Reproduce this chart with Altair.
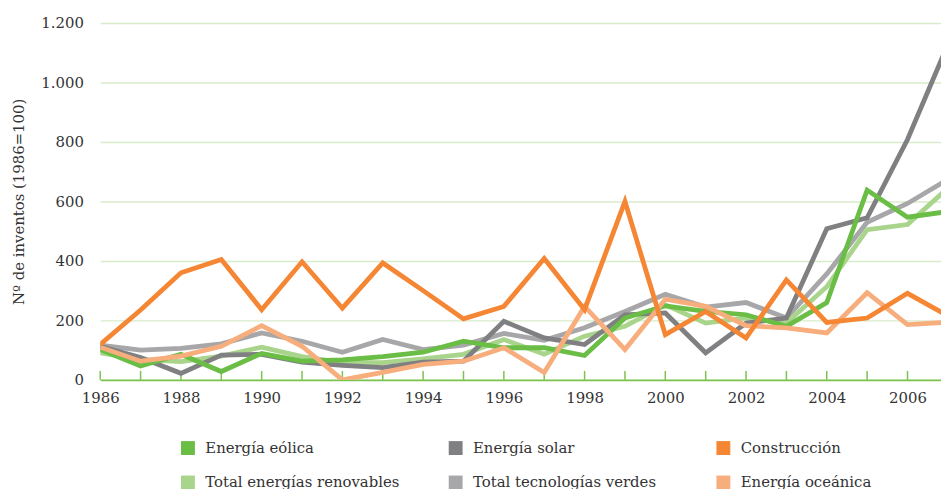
import altair as alt
import pandas as pd

years = list(range(1986, 2008))
eolica = [102, 47, 86, 28, 89, 63, 67, 78, 93, 130, 108, 108, 82, 208, 249, 230, 219, 180, 260, 638, 547, 566]
solar = [113, 75, 22, 83, 86, 60, 49, 41, 60, 63, 197, 141, 119, 219, 225, 91, 191, 208, 508, 545, 808, 1128]
construccion = [119, 235, 360, 405, 236, 397, 241, 393, 300, 205, 247, 408, 236, 600, 152, 230, 141, 336, 193, 208, 291, 215]
renovables = [91, 69, 61, 80, 110, 78, 58, 58, 71, 86, 136, 86, 147, 180, 252, 191, 208, 191, 313, 505, 522, 645]
verdes = [117, 100, 106, 121, 158, 130, 93, 136, 102, 117, 156, 133, 175, 230, 288, 245, 260, 208, 356, 530, 593, 674]
oceanica = [110, 63, 80, 113, 182, 113, 0, 25, 52, 63, 108, 25, 247, 102, 271, 247, 182, 175, 158, 293, 186, 194]

legend_order = ["Energía eólica", "Energía solar", "Construcción",
                "Total energías renovables", "Total tecnologías verdes", "Energía oceánica"]
colors = ["#6abd45", "#808083", "#f58634", "#a9d48c", "#a7a7aa", "#f8ad7c"]

series = {
    "Total tecnologías verdes": verdes,
    "Total energías renovables": renovables,
    "Energía solar": solar,
    "Energía eólica": eolica,
    "Energía oceánica": oceanica,
    "Construcción": construccion,
}
draw_order = list(series.keys())

rows = []
for name, vals in series.items():
    for y, v in zip(years, vals):
        rows.append({"year": y, "value": v, "serie": name, "z": draw_order.index(name)})
df = pd.DataFrame(rows)

tick_years = list(range(1986, 2007))
label_years = list(range(1986, 2007, 2))
ticks_df = pd.DataFrame({"year": tick_years})

FONT = "DejaVu Serif"

x_scale = alt.Scale(domain=[1986, 2006.83], nice=False, zero=False)
y_scale = alt.Scale(domain=[0, 1200], nice=False)

x_enc = alt.X("year:Q", scale=x_scale,
              axis=alt.Axis(values=label_years, format="d", title=None, grid=False,
                            ticks=False, domain=True, domainColor="#7cc24e", domainWidth=2,
                            labelFont=FONT, labelFontSize=15, labelColor="#333333",
                            labelPadding=11, labelFlush=False))
y_enc = alt.Y("value:Q", scale=y_scale,
              axis=alt.Axis(values=[0, 200, 400, 600, 800, 1000, 1200],
                            labelExpr="replace(format(datum.value, ','), ',', '.')",
                            title="Nº de inventos (1986=100)", titleFont=FONT,
                            titleFontSize=15, titleFontWeight="normal", titleColor="#333333",
                            titlePadding=14, labelFont=FONT, labelFontSize=15,
                            labelColor="#333333", labelPadding=17, ticks=False, domain=False,
                            grid=True, gridColor="#d8ebcb", gridWidth=1.5))

leg = alt.Legend(orient="none", legendX=81, legendY=421, columns=3,
                 direction="horizontal", title=None,
                 symbolType="square", symbolSize=196,
                 symbolStrokeWidth=0, symbolOpacity=1,
                 labelFont=FONT, labelFontSize=15,
                 labelColor="#333333", labelOffset=10,
                 columnPadding=49, rowPadding=19,
                 gridAlign="all", labelLimit=400)
color_enc = alt.Color("serie:N", scale=alt.Scale(domain=legend_order, range=colors), legend=leg)

swatches = alt.Chart(df).mark_square(size=0, filled=True, opacity=0).encode(
    x=x_enc, y=y_enc, color=color_enc,
)

lines = alt.Chart(df).mark_line(strokeWidth=4.8, strokeJoin="miter", clip=True).encode(
    x=x_enc, y=y_enc, color=color_enc,
    detail="z:O",
    order="year:Q",
)

ticks = alt.Chart(ticks_df).mark_rule(color="#7cc24e", strokeWidth=1.5).encode(
    x=alt.X("year:Q", scale=x_scale),
    y=alt.value(360),
    y2=alt.value(351),
)

chart = alt.layer(swatches, ticks, lines).properties(
    width=848, height=360,
    autosize=alt.AutoSizeParams(type="none"),
    padding={"left": 93, "top": 13, "right": 0, "bottom": 108},
).configure_view(stroke=None)

chart.save("out.html", embed_options={"renderer": "svg", "actions": False})
